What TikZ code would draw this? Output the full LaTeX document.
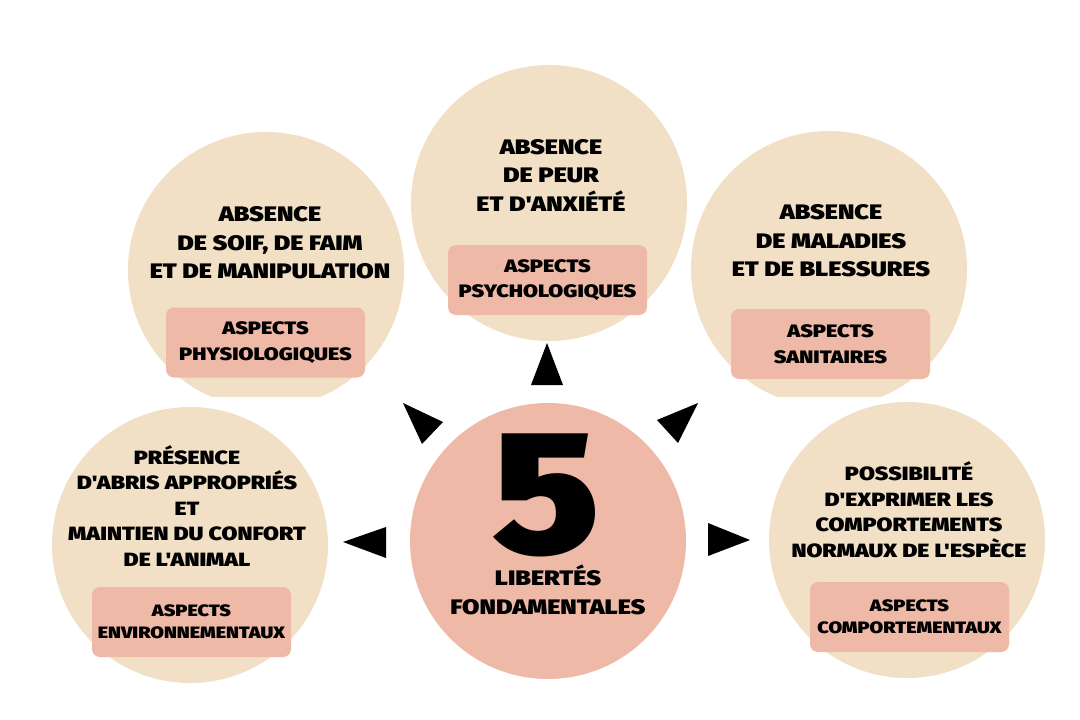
\documentclass[tikz,border=0pt]{standalone}
\usepackage{fontspec}
\setmainfont{Fira Sans}[BoldFont={Fira Sans Black},BoldFeatures={FakeStretch=1.2},Ligatures=TeXOff]
\newfontfamily\fivefont{Fira Sans Black}[FakeStretch=1.1]
\definecolor{beige}{HTML}{F1E0C6}
\definecolor{salmon}{HTML}{EEBAA7}
\begin{document}
\begin{tikzpicture}[x=1pt,y=-1pt,
  bubble/.style={circle,fill=beige,minimum size=276pt,inner sep=0pt},
  core/.style={circle,fill=salmon,minimum size=276pt,inner sep=0pt},
  tagbox/.style={rounded corners=8pt,fill=salmon,minimum width=199pt,minimum height=70pt,inner sep=0pt,align=center,font=\fontsize{18}{25.5}\selectfont\bfseries},
  tagsmall/.style={tagbox,font=\fontsize{16.5}{22}\selectfont\bfseries},
  title/.style={align=center,font=\fontsize{21}{28.5}\selectfont\bfseries},
  titlesmall/.style={align=center,font=\fontsize{19.2}{25.5}\selectfont\bfseries},
  tip/.style={fill=black}]
\useasboundingbox (0,0) rectangle (1080,720);
\fill[white] (0,0) rectangle (1080,720);
% top circles, clipped at bottom
\begin{scope}
\clip (0,0) rectangle (1080,396);
\node[bubble] (cTL) at (266,270) {};
\node[bubble] (cTR) at (829,269) {};
\end{scope}
\node[bubble] (cT) at (549,203) {};
\node[bubble] (cBL) at (190,545) {};
\node[bubble] (cBR) at (907,540) {};
\node[core] (cC) at (548,541) {};
% texts
\node[title] (tTL) at (270,243) {ABSENCE\\DE SOIF, DE FAIM\\ET DE MANIPULATION};
\node[tagbox] (bTL) at (265.5,342.5) {ASPECTS\\PHYSIOLOGIQUES};
\node[title] (tT) at (551,175) {ABSENCE\\DE PEUR\\ET D'ANXIÉTÉ};
\node[tagbox] (bT) at (547.5,280) {ASPECTS\\PSYCHOLOGIQUES};
\node[title] (tTR) at (831,241) {ABSENCE\\DE MALADIES\\ET DE BLESSURES};
\node[tagbox] (bTR) at (830.5,344) {ASPECTS\\SANITAIRES};
\node[titlesmall] (tBL) at (187,506) {PRÉSENCE\\D'ABRIS APPROPRIÉS\\ET\\MAINTIEN DU CONFORT\\DE L'ANIMAL};
\node[tagsmall] (bBL) at (191.5,622) {ASPECTS\\ENVIRONNEMENTAUX};
\node[titlesmall] (tBR) at (909,509.5) {POSSIBILITÉ\\D'EXPRIMER LES\\COMPORTEMENTS\\NORMAUX DE L'ESPÈCE};
\node[tagsmall] (bBR) at (909.5,617) {ASPECTS\\COMPORTEMENTAUX};
\node[font=\fontsize{176}{176}\fivefont,inner sep=0pt,anchor=base] (five) at (546,553) {5};
\node[title] (tC) at (548,590) {LIBERTÉS\\FONDAMENTALES};
% triangles
\fill[tip] (547,343) -- (563,385) -- (531,385) -- cycle;
\fill[tip] (403,403) -- (443,422) -- (422,444) -- cycle;
\fill[tip] (698,403) -- (657,420) -- (678,443) -- cycle;
\fill[tip] (343,542) -- (386,527) -- (386,558) -- cycle;
\fill[tip] (750,540) -- (708,523) -- (708,556) -- cycle;
\end{tikzpicture}
\end{document}
